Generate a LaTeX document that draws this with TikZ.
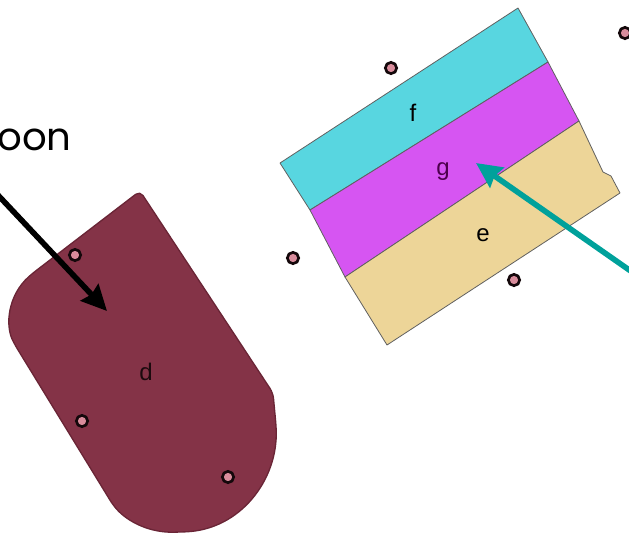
\documentclass[tikz,border=0pt]{standalone}
\usepackage{fontspec}
\setmainfont{Liberation Sans}
\newfontfamily\handfont{Poppins}
\usetikzlibrary{arrows.meta}
\definecolor{bandcyan}{HTML}{58D6E0}
\definecolor{bandviolet}{HTML}{D655F2}
\definecolor{bandsand}{HTML}{EDD598}
\definecolor{blobwine}{HTML}{843347}
\definecolor{blobedge}{HTML}{6A2536}
\definecolor{pointpink}{HTML}{D98C9C}
\definecolor{arrowteal}{HTML}{00A19B}

\begin{document}
\begin{tikzpicture}[
    x=0.75pt, y=-0.75pt,
    >={Stealth[length=19pt,width=18pt,inset=2pt]},
    band/.style={draw=gray!75!black, line width=0.6pt, line join=round},
    blob/.style={fill=blobwine, draw=blobedge, line width=1pt},
    dotpt/.style={
      circle, inner sep=0pt, minimum size=8.5pt,
      fill=pointpink, draw=black!85!blobwine, line width=2pt,
    },
    letter/.style={font=\fontsize{18}{20}\selectfont, inner sep=1pt},
    pointer/.style={->, line width=4.2pt},
  ]

  \useasboundingbox (0,0) rectangle (629,537);
  \clip (0,0) rectangle (629,537);

  % --- Rounded blob d ---
  \path[blob, rounded corners=4] (140,191) -- (273,393) -- (276,425)
    .. controls (278,480) and (240,530) .. (180,532)
    .. controls (150,533) and (128,522) .. (113,505)
    -- (15,345) .. controls (5,325) and (8,295) .. (33,273) -- cycle;
  \node[letter, text=black!80!blobwine] (lbld) at (146,372) {d};

  % ================================================================
  %  STRIPED BOX  --  f / g / e
  % ================================================================
  \path[band, fill=bandcyan]   (280,163) -- (518,8) -- (548,62) -- (310,210) -- cycle;
  \path[band, fill=bandviolet] (310,210) -- (548,62) -- (579,121) -- (345,277) -- cycle;
  \path[band, fill=bandsand]   (345,277) -- (579,121) -- (603,172) -- (611,176)
    -- (620,193) -- (387,345) -- cycle;
  \node[letter] (lblf) at (413,113) {f};
  \node[letter, text=violet!60!black] (lblg) at (443,172) {g};
  \node[letter] (lble) at (483,235) {e};

  % --- Points ---
  \foreach \pid/\px/\py in {a/75/255, b/82/421, c/228/477,
                            h/391/68, i/293/258, j/514/280, k/625/33} {
    \node[dotpt] (pt\pid) at (\px,\py) {};
  }

  % ================================================================
  %  CALLOUTS
  % ================================================================
  \node[font=\handfont\fontsize{29}{32}\selectfont, anchor=base east,
    inner sep=0pt] (word) at (72,150) {poon};

  \coordinate (blacktail) at (-20,176);
  \coordinate (blacktip) at (107,311);
  \draw[pointer, draw=black] (blacktail) -- (blacktip);

  \coordinate (tealtail) at (645,281);
  \coordinate (tealtip) at (476,163);
  \draw[pointer, draw=arrowteal] (tealtail) -- (tealtip);

\end{tikzpicture}
\end{document}
